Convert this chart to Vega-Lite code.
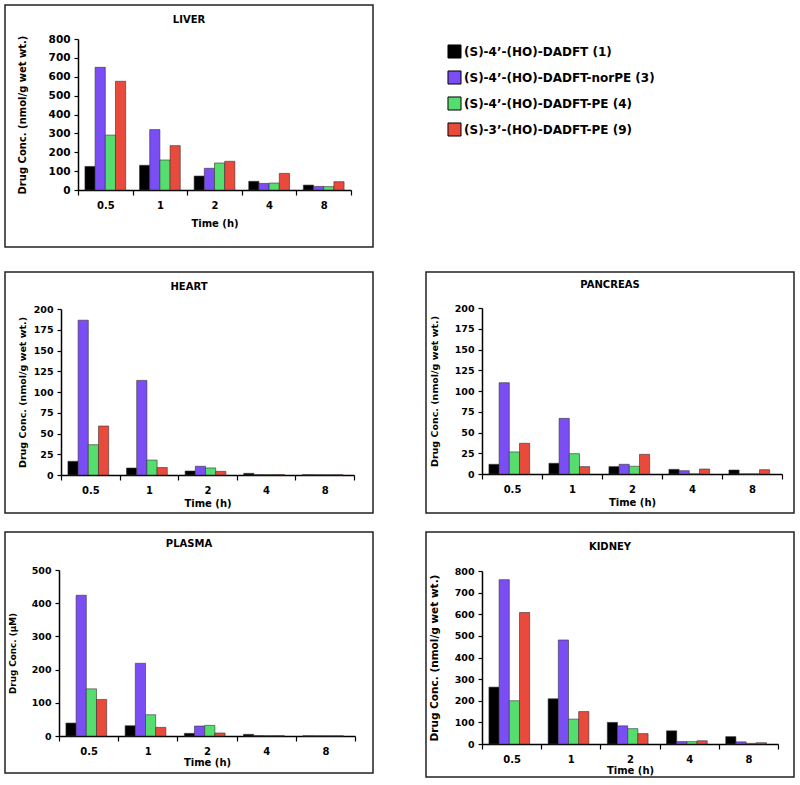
{
  "$schema": "https://vega.github.io/schema/vega-lite/v6.json",
  "padding": {"left": 4, "top": 4, "right": 0, "bottom": 0},
  "background": "white",
  "spacing": 23,
  "datasets": {
    "conc": [
      {"organ":"LIVER","time":"0.5","compound":"(S)-4’-(HO)-DADFT (1)","value":125},
      {"organ":"LIVER","time":"0.5","compound":"(S)-4’-(HO)-DADFT-norPE (3)","value":650},
      {"organ":"LIVER","time":"0.5","compound":"(S)-4’-(HO)-DADFT-PE (4)","value":291},
      {"organ":"LIVER","time":"0.5","compound":"(S)-3’-(HO)-DADFT-PE (9)","value":576},
      {"organ":"LIVER","time":"1","compound":"(S)-4’-(HO)-DADFT (1)","value":131},
      {"organ":"LIVER","time":"1","compound":"(S)-4’-(HO)-DADFT-norPE (3)","value":320},
      {"organ":"LIVER","time":"1","compound":"(S)-4’-(HO)-DADFT-PE (4)","value":159},
      {"organ":"LIVER","time":"1","compound":"(S)-3’-(HO)-DADFT-PE (9)","value":235},
      {"organ":"LIVER","time":"2","compound":"(S)-4’-(HO)-DADFT (1)","value":74},
      {"organ":"LIVER","time":"2","compound":"(S)-4’-(HO)-DADFT-norPE (3)","value":115},
      {"organ":"LIVER","time":"2","compound":"(S)-4’-(HO)-DADFT-PE (4)","value":143},
      {"organ":"LIVER","time":"2","compound":"(S)-3’-(HO)-DADFT-PE (9)","value":152},
      {"organ":"LIVER","time":"4","compound":"(S)-4’-(HO)-DADFT (1)","value":46},
      {"organ":"LIVER","time":"4","compound":"(S)-4’-(HO)-DADFT-norPE (3)","value":35},
      {"organ":"LIVER","time":"4","compound":"(S)-4’-(HO)-DADFT-PE (4)","value":37},
      {"organ":"LIVER","time":"4","compound":"(S)-3’-(HO)-DADFT-PE (9)","value":88},
      {"organ":"LIVER","time":"8","compound":"(S)-4’-(HO)-DADFT (1)","value":26},
      {"organ":"LIVER","time":"8","compound":"(S)-4’-(HO)-DADFT-norPE (3)","value":19},
      {"organ":"LIVER","time":"8","compound":"(S)-4’-(HO)-DADFT-PE (4)","value":18},
      {"organ":"LIVER","time":"8","compound":"(S)-3’-(HO)-DADFT-PE (9)","value":44},

      {"organ":"HEART","time":"0.5","compound":"(S)-4’-(HO)-DADFT (1)","value":16.5},
      {"organ":"HEART","time":"0.5","compound":"(S)-4’-(HO)-DADFT-norPE (3)","value":186.5},
      {"organ":"HEART","time":"0.5","compound":"(S)-4’-(HO)-DADFT-PE (4)","value":36.5},
      {"organ":"HEART","time":"0.5","compound":"(S)-3’-(HO)-DADFT-PE (9)","value":59},
      {"organ":"HEART","time":"1","compound":"(S)-4’-(HO)-DADFT (1)","value":8.4},
      {"organ":"HEART","time":"1","compound":"(S)-4’-(HO)-DADFT-norPE (3)","value":114},
      {"organ":"HEART","time":"1","compound":"(S)-4’-(HO)-DADFT-PE (4)","value":18},
      {"organ":"HEART","time":"1","compound":"(S)-3’-(HO)-DADFT-PE (9)","value":9},
      {"organ":"HEART","time":"2","compound":"(S)-4’-(HO)-DADFT (1)","value":4.8},
      {"organ":"HEART","time":"2","compound":"(S)-4’-(HO)-DADFT-norPE (3)","value":10.5},
      {"organ":"HEART","time":"2","compound":"(S)-4’-(HO)-DADFT-PE (4)","value":8.5},
      {"organ":"HEART","time":"2","compound":"(S)-3’-(HO)-DADFT-PE (9)","value":4.4},
      {"organ":"HEART","time":"4","compound":"(S)-4’-(HO)-DADFT (1)","value":2},
      {"organ":"HEART","time":"4","compound":"(S)-4’-(HO)-DADFT-norPE (3)","value":0.5},
      {"organ":"HEART","time":"4","compound":"(S)-4’-(HO)-DADFT-PE (4)","value":0.5},
      {"organ":"HEART","time":"4","compound":"(S)-3’-(HO)-DADFT-PE (9)","value":0.5},
      {"organ":"HEART","time":"8","compound":"(S)-4’-(HO)-DADFT (1)","value":0.3},
      {"organ":"HEART","time":"8","compound":"(S)-4’-(HO)-DADFT-norPE (3)","value":0.3},
      {"organ":"HEART","time":"8","compound":"(S)-4’-(HO)-DADFT-PE (4)","value":0.3},
      {"organ":"HEART","time":"8","compound":"(S)-3’-(HO)-DADFT-PE (9)","value":0.3},

      {"organ":"PANCREAS","time":"0.5","compound":"(S)-4’-(HO)-DADFT (1)","value":11.7},
      {"organ":"PANCREAS","time":"0.5","compound":"(S)-4’-(HO)-DADFT-norPE (3)","value":110},
      {"organ":"PANCREAS","time":"0.5","compound":"(S)-4’-(HO)-DADFT-PE (4)","value":26.6},
      {"organ":"PANCREAS","time":"0.5","compound":"(S)-3’-(HO)-DADFT-PE (9)","value":37},
      {"organ":"PANCREAS","time":"1","compound":"(S)-4’-(HO)-DADFT (1)","value":12.9},
      {"organ":"PANCREAS","time":"1","compound":"(S)-4’-(HO)-DADFT-norPE (3)","value":67},
      {"organ":"PANCREAS","time":"1","compound":"(S)-4’-(HO)-DADFT-PE (4)","value":24.5},
      {"organ":"PANCREAS","time":"1","compound":"(S)-3’-(HO)-DADFT-PE (9)","value":8.9},
      {"organ":"PANCREAS","time":"2","compound":"(S)-4’-(HO)-DADFT (1)","value":8.9},
      {"organ":"PANCREAS","time":"2","compound":"(S)-4’-(HO)-DADFT-norPE (3)","value":11.7},
      {"organ":"PANCREAS","time":"2","compound":"(S)-4’-(HO)-DADFT-PE (4)","value":9.3},
      {"organ":"PANCREAS","time":"2","compound":"(S)-3’-(HO)-DADFT-PE (9)","value":23.7},
      {"organ":"PANCREAS","time":"4","compound":"(S)-4’-(HO)-DADFT (1)","value":5.6},
      {"organ":"PANCREAS","time":"4","compound":"(S)-4’-(HO)-DADFT-norPE (3)","value":4},
      {"organ":"PANCREAS","time":"4","compound":"(S)-4’-(HO)-DADFT-PE (4)","value":0},
      {"organ":"PANCREAS","time":"4","compound":"(S)-3’-(HO)-DADFT-PE (9)","value":6},
      {"organ":"PANCREAS","time":"8","compound":"(S)-4’-(HO)-DADFT (1)","value":4.8},
      {"organ":"PANCREAS","time":"8","compound":"(S)-4’-(HO)-DADFT-norPE (3)","value":0},
      {"organ":"PANCREAS","time":"8","compound":"(S)-4’-(HO)-DADFT-PE (4)","value":0},
      {"organ":"PANCREAS","time":"8","compound":"(S)-3’-(HO)-DADFT-PE (9)","value":5.2},

      {"organ":"PLASMA","time":"0.5","compound":"(S)-4’-(HO)-DADFT (1)","value":39},
      {"organ":"PLASMA","time":"0.5","compound":"(S)-4’-(HO)-DADFT-norPE (3)","value":424},
      {"organ":"PLASMA","time":"0.5","compound":"(S)-4’-(HO)-DADFT-PE (4)","value":142},
      {"organ":"PLASMA","time":"0.5","compound":"(S)-3’-(HO)-DADFT-PE (9)","value":110},
      {"organ":"PLASMA","time":"1","compound":"(S)-4’-(HO)-DADFT (1)","value":31},
      {"organ":"PLASMA","time":"1","compound":"(S)-4’-(HO)-DADFT-norPE (3)","value":219},
      {"organ":"PLASMA","time":"1","compound":"(S)-4’-(HO)-DADFT-PE (4)","value":64},
      {"organ":"PLASMA","time":"1","compound":"(S)-3’-(HO)-DADFT-PE (9)","value":26},
      {"organ":"PLASMA","time":"2","compound":"(S)-4’-(HO)-DADFT (1)","value":8},
      {"organ":"PLASMA","time":"2","compound":"(S)-4’-(HO)-DADFT-norPE (3)","value":30},
      {"organ":"PLASMA","time":"2","compound":"(S)-4’-(HO)-DADFT-PE (4)","value":32},
      {"organ":"PLASMA","time":"2","compound":"(S)-3’-(HO)-DADFT-PE (9)","value":9},
      {"organ":"PLASMA","time":"4","compound":"(S)-4’-(HO)-DADFT (1)","value":5},
      {"organ":"PLASMA","time":"4","compound":"(S)-4’-(HO)-DADFT-norPE (3)","value":1.5},
      {"organ":"PLASMA","time":"4","compound":"(S)-4’-(HO)-DADFT-PE (4)","value":1},
      {"organ":"PLASMA","time":"4","compound":"(S)-3’-(HO)-DADFT-PE (9)","value":1},
      {"organ":"PLASMA","time":"8","compound":"(S)-4’-(HO)-DADFT (1)","value":0.5},
      {"organ":"PLASMA","time":"8","compound":"(S)-4’-(HO)-DADFT-norPE (3)","value":0.5},
      {"organ":"PLASMA","time":"8","compound":"(S)-4’-(HO)-DADFT-PE (4)","value":0.5},
      {"organ":"PLASMA","time":"8","compound":"(S)-3’-(HO)-DADFT-PE (9)","value":0.5},

      {"organ":"KIDNEY","time":"0.5","compound":"(S)-4’-(HO)-DADFT (1)","value":263},
      {"organ":"KIDNEY","time":"0.5","compound":"(S)-4’-(HO)-DADFT-norPE (3)","value":760},
      {"organ":"KIDNEY","time":"0.5","compound":"(S)-4’-(HO)-DADFT-PE (4)","value":200},
      {"organ":"KIDNEY","time":"0.5","compound":"(S)-3’-(HO)-DADFT-PE (9)","value":608},
      {"organ":"KIDNEY","time":"1","compound":"(S)-4’-(HO)-DADFT (1)","value":209},
      {"organ":"KIDNEY","time":"1","compound":"(S)-4’-(HO)-DADFT-norPE (3)","value":481},
      {"organ":"KIDNEY","time":"1","compound":"(S)-4’-(HO)-DADFT-PE (4)","value":115},
      {"organ":"KIDNEY","time":"1","compound":"(S)-3’-(HO)-DADFT-PE (9)","value":150},
      {"organ":"KIDNEY","time":"2","compound":"(S)-4’-(HO)-DADFT (1)","value":100},
      {"organ":"KIDNEY","time":"2","compound":"(S)-4’-(HO)-DADFT-norPE (3)","value":84},
      {"organ":"KIDNEY","time":"2","compound":"(S)-4’-(HO)-DADFT-PE (4)","value":71},
      {"organ":"KIDNEY","time":"2","compound":"(S)-3’-(HO)-DADFT-PE (9)","value":48},
      {"organ":"KIDNEY","time":"4","compound":"(S)-4’-(HO)-DADFT (1)","value":61},
      {"organ":"KIDNEY","time":"4","compound":"(S)-4’-(HO)-DADFT-norPE (3)","value":11},
      {"organ":"KIDNEY","time":"4","compound":"(S)-4’-(HO)-DADFT-PE (4)","value":11},
      {"organ":"KIDNEY","time":"4","compound":"(S)-3’-(HO)-DADFT-PE (9)","value":15},
      {"organ":"KIDNEY","time":"8","compound":"(S)-4’-(HO)-DADFT (1)","value":34},
      {"organ":"KIDNEY","time":"8","compound":"(S)-4’-(HO)-DADFT-norPE (3)","value":10},
      {"organ":"KIDNEY","time":"8","compound":"(S)-4’-(HO)-DADFT-PE (4)","value":3},
      {"organ":"KIDNEY","time":"8","compound":"(S)-3’-(HO)-DADFT-PE (9)","value":6}
    ]
  },
  "data": {"name": "conc"},
  "resolve": {"legend": {"color": "independent"}},
  "vconcat": [
    {
      "width": 368, "height": 242,
      "title": {"text": "LIVER", "offset": -25, "baseline": "middle", "fontSize": 10},
      "transform": [{"filter": "datum.organ === 'LIVER'"}],
      "mark": {"type": "bar", "stroke": "#333", "strokeWidth": 0.6},
      "encoding": {
        "x": {"field": "time", "type": "nominal", "scale": {"domain": ["0.5","1","2","4","8"], "range": [73, 346], "paddingInner": 0, "paddingOuter": 0}, "axis": {"title": "Time (h)", "offset": -57, "titlePadding": 8}},
        "xOffset": {"field": "compound", "type": "nominal", "scale": {"domain": ["(S)-4’-(HO)-DADFT (1)","(S)-4’-(HO)-DADFT-norPE (3)","(S)-4’-(HO)-DADFT-PE (4)","(S)-3’-(HO)-DADFT-PE (9)"], "paddingInner": 0, "paddingOuter": 0.68}},
        "y": {"field": "value", "type": "quantitative", "scale": {"domain": [0, 800], "range": [185, 34], "nice": false}, "axis": {"title": "Drug Conc. (nmol/g wet wt.)", "offset": -73, "titlePadding": 21, "titleFontSize": 10, "values": [0,100,200,300,400,500,600,700,800], "labelFontSize": 10.5}},
        "color": {"field": "compound", "type": "nominal", "scale": {"domain": ["(S)-4’-(HO)-DADFT (1)","(S)-4’-(HO)-DADFT-norPE (3)","(S)-4’-(HO)-DADFT-PE (4)","(S)-3’-(HO)-DADFT-PE (9)"], "range": ["#000000","#7a4df5","#55dd6e","#e84a3c"]},
          "legend": {"orient": "none", "legendX": 442, "legendY": 39, "title": null, "symbolType": "square", "symbolSize": 170, "symbolStrokeColor": "#000", "symbolStrokeWidth": 1, "symbolOpacity": 1, "labelFontSize": 12, "labelFontWeight": "bold", "labelColor": "#000", "rowPadding": 7, "labelOffset": 2, "labelLimit": 300}}
      }
    },
    {
      "spacing": 17,
      "resolve": {"legend": {"color": "independent"}},
      "vconcat": [
        {
          "spacing": 51,
          "resolve": {"legend": {"color": "independent"}},
          "hconcat": [
            {
              "width": 368, "height": 241,
              "title": {"text": "HEART", "offset": -25, "baseline": "middle", "fontSize": 10},
              "transform": [{"filter": "datum.organ === 'HEART'"}],
              "mark": {"type": "bar", "stroke": "#333", "strokeWidth": 0.6},
              "encoding": {
                "x": {"field": "time", "type": "nominal", "scale": {"domain": ["0.5","1","2","4","8"], "range": [56, 349], "paddingInner": 0, "paddingOuter": 0}, "axis": {"title": "Time (h)", "offset": -38, "titlePadding": 3}},
                "xOffset": {"field": "compound", "type": "nominal", "scale": {"domain": ["(S)-4’-(HO)-DADFT (1)","(S)-4’-(HO)-DADFT-norPE (3)","(S)-4’-(HO)-DADFT-PE (4)","(S)-3’-(HO)-DADFT-PE (9)"], "paddingInner": 0, "paddingOuter": 0.68}},
                "y": {"field": "value", "type": "quantitative", "scale": {"domain": [0, 200], "range": [203, 37], "nice": false}, "axis": {"title": "Drug Conc. (nmol/g wet wt.)", "offset": -56, "titlePadding": 6, "labelFontSize": 9.5, "values": [0,25,50,75,100,125,150,175,200]}},
                "color": {"field": "compound", "type": "nominal", "scale": {"domain": ["(S)-4’-(HO)-DADFT (1)","(S)-4’-(HO)-DADFT-norPE (3)","(S)-4’-(HO)-DADFT-PE (4)","(S)-3’-(HO)-DADFT-PE (9)"], "range": ["#000000","#7a4df5","#55dd6e","#e84a3c"]}, "legend": null}
              }
            },
            {
              "width": 368, "height": 241,
              "title": {"text": "PANCREAS", "offset": -23, "baseline": "middle", "fontSize": 10},
              "transform": [{"filter": "datum.organ === 'PANCREAS'"}],
              "mark": {"type": "bar", "stroke": "#333", "strokeWidth": 0.6},
              "encoding": {
                "x": {"field": "time", "type": "nominal", "scale": {"domain": ["0.5","1","2","4","8"], "range": [56, 356], "paddingInner": 0, "paddingOuter": 0}, "axis": {"title": "Time (h)", "offset": -39, "titlePadding": 3}},
                "xOffset": {"field": "compound", "type": "nominal", "scale": {"domain": ["(S)-4’-(HO)-DADFT (1)","(S)-4’-(HO)-DADFT-norPE (3)","(S)-4’-(HO)-DADFT-PE (4)","(S)-3’-(HO)-DADFT-PE (9)"], "paddingInner": 0, "paddingOuter": 0.68}},
                "y": {"field": "value", "type": "quantitative", "scale": {"domain": [0, 200], "range": [202, 36], "nice": false}, "axis": {"title": "Drug Conc. (nmol/g wet wt.)", "offset": -56, "titlePadding": 15, "labelFontSize": 9.5, "values": [0,25,50,75,100,125,150,175,200]}},
                "color": {"field": "compound", "type": "nominal", "scale": {"domain": ["(S)-4’-(HO)-DADFT (1)","(S)-4’-(HO)-DADFT-norPE (3)","(S)-4’-(HO)-DADFT-PE (4)","(S)-3’-(HO)-DADFT-PE (9)"], "range": ["#000000","#7a4df5","#55dd6e","#e84a3c"]}, "legend": null}
              }
            }
          ]
        },
        {
          "spacing": 51,
          "resolve": {"legend": {"color": "independent"}},
          "hconcat": [
            {
              "width": 368, "height": 241,
              "title": {"text": "PLASMA", "offset": -22, "baseline": "middle", "fontSize": 10},
              "transform": [{"filter": "datum.organ === 'PLASMA'"}],
              "mark": {"type": "bar", "stroke": "#333", "strokeWidth": 0.6},
              "encoding": {
                "x": {"field": "time", "type": "nominal", "scale": {"domain": ["0.5","1","2","4","8"], "range": [54, 350], "paddingInner": 0, "paddingOuter": 0}, "axis": {"title": "Time (h)", "offset": -37, "titlePadding": 1}},
                "xOffset": {"field": "compound", "type": "nominal", "scale": {"domain": ["(S)-4’-(HO)-DADFT (1)","(S)-4’-(HO)-DADFT-norPE (3)","(S)-4’-(HO)-DADFT-PE (4)","(S)-3’-(HO)-DADFT-PE (9)"], "paddingInner": 0, "paddingOuter": 0.68}},
                "y": {"field": "value", "type": "quantitative", "scale": {"domain": [0, 500], "range": [204, 38], "nice": false}, "axis": {"title": "Drug Conc. (µM)", "offset": -54, "titlePadding": 14, "titleFontSize": 8.8, "values": [0,100,200,300,400,500], "labelFontSize": 9.5}},
                "color": {"field": "compound", "type": "nominal", "scale": {"domain": ["(S)-4’-(HO)-DADFT (1)","(S)-4’-(HO)-DADFT-norPE (3)","(S)-4’-(HO)-DADFT-PE (4)","(S)-3’-(HO)-DADFT-PE (9)"], "range": ["#000000","#7a4df5","#55dd6e","#e84a3c"]}, "legend": null}
              }
            },
            {
              "width": 368, "height": 245,
              "title": {"text": "KIDNEY", "offset": -25, "baseline": "middle", "fontSize": 10},
              "transform": [{"filter": "datum.organ === 'KIDNEY'"}],
              "mark": {"type": "bar", "stroke": "#333", "strokeWidth": 0.6},
              "encoding": {
                "x": {"field": "time", "type": "nominal", "scale": {"domain": ["0.5","1","2","4","8"], "range": [56, 352], "paddingInner": 0, "paddingOuter": 0}, "axis": {"title": "Time (h)", "offset": -33, "titlePadding": 1}},
                "xOffset": {"field": "compound", "type": "nominal", "scale": {"domain": ["(S)-4’-(HO)-DADFT (1)","(S)-4’-(HO)-DADFT-norPE (3)","(S)-4’-(HO)-DADFT-PE (4)","(S)-3’-(HO)-DADFT-PE (9)"], "paddingInner": 0, "paddingOuter": 0.68}},
                "y": {"field": "value", "type": "quantitative", "scale": {"domain": [0, 800], "range": [212, 39], "nice": false}, "axis": {"title": "Drug Conc. (nmol/g wet wt.)", "offset": -56, "titlePadding": 15, "titleFontSize": 10.5, "labelFontSize": 9.5, "values": [0,100,200,300,400,500,600,700,800]}},
                "color": {"field": "compound", "type": "nominal", "scale": {"domain": ["(S)-4’-(HO)-DADFT (1)","(S)-4’-(HO)-DADFT-norPE (3)","(S)-4’-(HO)-DADFT-PE (4)","(S)-3’-(HO)-DADFT-PE (9)"], "range": ["#000000","#7a4df5","#55dd6e","#e84a3c"]}, "legend": null}
              }
            }
          ]
        }
      ]
    }
  ],
  "config": {
    "font": "DejaVu Sans",
    "view": {"stroke": "#222", "strokeWidth": 1.5},
    "title": {"font": "DejaVu Sans", "fontWeight": "bold", "color": "#000", "anchor": "middle"},
    "axis": {"grid": false, "domainColor": "#000", "domainWidth": 1.5, "tickColor": "#000", "tickWidth": 1.2, "labelFont": "DejaVu Sans", "labelFontWeight": "bold", "labelColor": "#000", "labelFontSize": 10, "titleFont": "DejaVu Sans", "titleFontWeight": "bold", "titleColor": "#000", "titleFontSize": 10},
    "axisX": {"tickBand": "extent", "tickSize": 5, "labelPadding": 5, "labelAngle": 0},
    "axisY": {"tickSize": 4, "labelPadding": 4, "titleFontSize": 9.5},
    "legend": {"labelFont": "DejaVu Sans"}
  }
}
